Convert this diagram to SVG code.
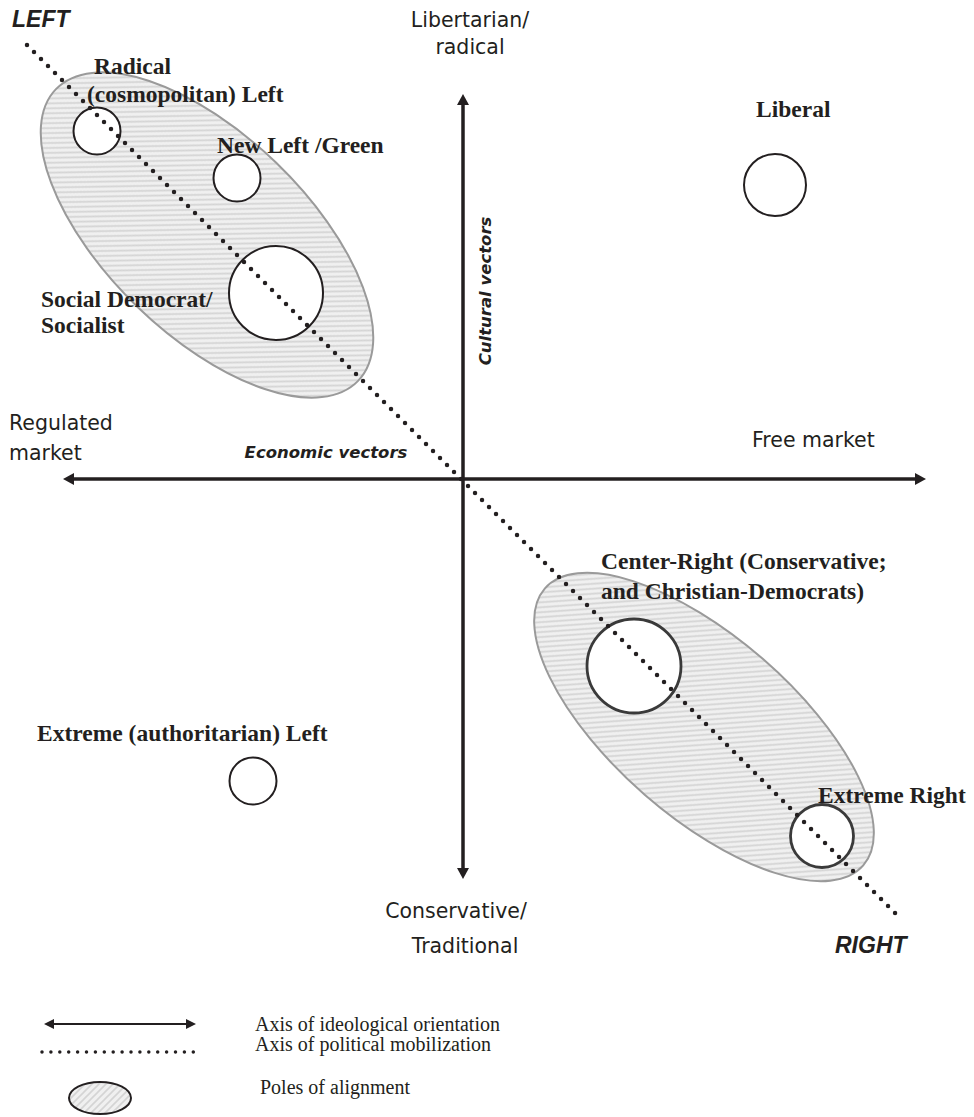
<svg xmlns="http://www.w3.org/2000/svg" width="974" height="1117" viewBox="0 0 974 1117">
<style>
.node{fill:#231f20;font-family:"Liberation Serif","Times New Roman",serif;font-weight:bold;font-size:23.5px}
.ax{fill:#231f20;font-family:"DejaVu Sans",Verdana,sans-serif;font-size:20.5px}
.vec{fill:#231f20;font-family:"DejaVu Sans",Verdana,sans-serif;font-size:16.5px;font-weight:bold;font-style:italic}
.end{fill:#231f20;font-family:"Liberation Sans",Arial,sans-serif;font-size:23px;font-weight:bold;font-style:italic}
.leg{fill:#231f20;font-family:"Liberation Serif","Times New Roman",serif;font-size:20px}
.circ{fill:#fff;stroke:#231f20;stroke-width:2}
.circ2{fill:#fff;stroke:#3a3a3a;stroke-width:2.8}
.pole{fill:url(#hatch);stroke:#9a9a9a;stroke-width:2}
.axis{stroke:#231f20;stroke-width:3.5;fill:none}
.dots{stroke:#231f20;stroke-width:4.5;stroke-linecap:round;stroke-dasharray:0 9.9;fill:none}
</style>
<defs>
<pattern id="hatch" patternUnits="userSpaceOnUse" width="7" height="7">
<rect width="7" height="7" fill="#f0f0f0"/>
<path d="M-1,8 L8,-1 M-1,1 L1,-1 M6,8 L8,6" stroke="#d4d4d4" stroke-width="1.6"/>
</pattern>
<marker id="ah" viewBox="0 0 11 12" refX="2" refY="6" markerWidth="11" markerHeight="12" markerUnits="userSpaceOnUse" orient="auto-start-reverse">
<path d="M0,0 L11,6 L0,12 z" fill="#231f20"/>
</marker>
<marker id="ahs" viewBox="0 0 10 10" refX="2" refY="5" markerWidth="10" markerHeight="10" markerUnits="userSpaceOnUse" orient="auto-start-reverse">
<path d="M0,0 L10,5 L0,10 z" fill="#231f20"/>
</marker>
</defs>
<rect width="974" height="1117" fill="#fff"/>

<g id="poles">
<ellipse id="pole-left" class="pole" cx="207" cy="235" rx="210" ry="100" transform="rotate(44 207 235)"/>
<ellipse id="pole-right" class="pole" cx="704" cy="727" rx="211" ry="90" transform="rotate(41 704 727)"/>
</g>

<g id="node-radical">
<circle class="circ" cx="97" cy="131" r="23.5"/>
<text class="node" x="94" y="74">Radical</text>
<text class="node" x="87" y="102">(cosmopolitan) Left</text>
</g>
<g id="node-newleft">
<circle class="circ" cx="237" cy="178" r="23.5"/>
<text class="node" x="217" y="153">New Left /Green</text>
</g>
<g id="node-socdem">
<circle class="circ" cx="276" cy="293" r="47"/>
<text class="node" x="41" y="307">Social Democrat/</text>
<text class="node" x="41" y="333">Socialist</text>
</g>
<g id="node-liberal">
<circle class="circ" cx="775" cy="185" r="31"/>
<text class="node" x="756" y="117">Liberal</text>
</g>
<g id="node-centerright">
<circle class="circ2" cx="634" cy="666" r="47"/>
<text class="node" x="601" y="569">Center-Right (Conservative;</text>
<text class="node" x="601" y="599">and Christian-Democrats)</text>
</g>
<g id="node-extremeright">
<circle class="circ2" cx="822" cy="836" r="31.5"/>
<text class="node" x="818" y="803">Extreme Right</text>
</g>
<g id="node-extremeleft">
<circle class="circ" cx="253" cy="781" r="23.5"/>
<text class="node" x="37" y="741">Extreme (authoritarian) Left</text>
</g>

<g id="connectors">
<line class="axis" x1="463" y1="870" x2="463" y2="103" marker-start="url(#ah)" marker-end="url(#ah)"/>
<line class="axis" x1="72" y1="479" x2="917" y2="479" marker-start="url(#ah)" marker-end="url(#ah)"/>
<line class="dots" x1="27" y1="45" x2="898" y2="916"/>
</g>

<g id="labels">
<text class="end" x="12" y="27">LEFT</text>
<text class="end" x="835" y="953">RIGHT</text>
<text class="ax" x="470" y="27" text-anchor="middle">Libertarian/</text>
<text class="ax" x="470" y="54" text-anchor="middle">radical</text>
<text class="ax" x="456" y="918" text-anchor="middle">Conservative/</text>
<text class="ax" x="465" y="953" text-anchor="middle">Traditional</text>
<text class="ax" x="9" y="430">Regulated</text>
<text class="ax" x="9" y="460">market</text>
<text class="ax" x="752" y="447">Free market</text>
<text class="vec" x="326" y="458" text-anchor="middle">Economic vectors</text>
<text class="vec" transform="translate(491 291) rotate(-90)" text-anchor="middle">Cultural vectors</text>
</g>

<g id="legend">
<line x1="52" y1="1024" x2="188" y2="1024" stroke="#231f20" stroke-width="2" marker-start="url(#ahs)" marker-end="url(#ahs)"/>
<line x1="42" y1="1052" x2="194" y2="1052" stroke="#231f20" stroke-width="3.5" stroke-linecap="round" stroke-dasharray="0 8.9"/>
<ellipse cx="100" cy="1098" rx="31" ry="16" fill="url(#hatch)" stroke="#231f20" stroke-width="2"/>
<text class="leg" x="255" y="1031">Axis of ideological orientation</text>
<text class="leg" x="255" y="1051">Axis of political mobilization</text>
<text class="leg" x="260" y="1094">Poles of alignment</text>
</g>
</svg>
